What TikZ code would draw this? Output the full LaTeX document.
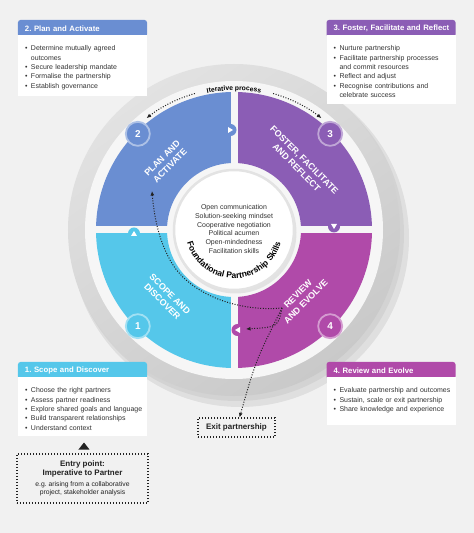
\documentclass[tikz,border=0pt]{standalone}
\usepackage{fontspec}
\setmainfont{Liberation Sans}
\usepackage{enumitem}
\setlist[itemize]{nosep, leftmargin=9bp, labelsep=3.5bp, label=\textbullet}
\usetikzlibrary{arrows.meta, positioning, decorations.text}
\frenchspacing

\definecolor{pagegrey}{HTML}{F1F1F1}
\definecolor{ringlight}{HTML}{E2E2E2}
\definecolor{ringdark}{HTML}{C9C9C9}
\definecolor{gapgrey}{HTML}{F6F6F6}
\definecolor{planblue}{HTML}{6A8ED2}
\definecolor{fosterpurple}{HTML}{8B5DB5}
\definecolor{reviewmagenta}{HTML}{B04AA9}
\definecolor{scopecyan}{HTML}{55C7EA}
\definecolor{bodyink}{HTML}{333333}
\definecolor{ink}{HTML}{222222}

\newcommand{\boxheadfont}{\fontsize{7.8}{9.4}\selectfont\bfseries}
\newcommand{\boxbodyfont}{\fontsize{7}{9.4}\selectfont}
\newcommand{\stagefont}{\fontsize{9}{11}\selectfont\bfseries}
\newcommand{\stepnumfont}{\fontsize{10}{12}\selectfont\bfseries}
\newcommand{\skillfont}{\fontsize{7}{8.8}\selectfont}
\newcommand{\skillarcfont}{\fontsize{8.5}{10}\selectfont\bfseries}
\newcommand{\iterfont}{\fontsize{6.8}{8}\selectfont\bfseries}
\newcommand{\entryfont}{\fontsize{8}{9}\selectfont\bfseries}
\newcommand{\entrynotefont}{\fontsize{6.8}{8}\selectfont}
\newcommand{\exitfont}{\fontsize{8}{9.6}\selectfont\bfseries}

\begin{document}
\begin{tikzpicture}[
  x=1bp, y=1bp,
  head/.style={rectangle, rounded corners=2.5bp, text=white, font=\boxheadfont,
    text width=115bp, inner xsep=7bp, inner ysep=0pt, minimum height=17bp, align=left},
  panel/.style={rectangle, fill=white, text=bodyink, font=\boxbodyfont,
    text width=121bp, inner xsep=4bp, inner ysep=6bp, align=left},
  stage/.style={text=white, font=\stagefont, align=center, inner sep=0pt},
  stepnum/.style={circle, fill=#1, draw=#1!55!white, line width=1.8bp,
    minimum size=24bp, inner sep=0pt, text=white, font=\stepnumfont},
  dotline/.style={draw=ink, line width=1bp, dash pattern=on 1bp off 1.6bp,
    -{Latex[length=4.5bp, width=4bp]}},
  dotbox/.style={draw=ink, line width=1.1bp, dash pattern=on 1.1bp off 1.9bp,
    inner sep=0pt, text=ink}
]
  % page
  \fill[pagegrey] (-234,-303) rectangle (240,230);
  \useasboundingbox (-234,-303) rectangle (240,230);

  % rings
  \fill[black, opacity=0.07] (6,-8) circle (169);
  \fill[black, opacity=0.05] (3,-4) circle (167);
  \shade[top color=ringlight, bottom color=ringdark, shading angle=35] (0,0) circle (166);
  \fill[gapgrey] (0,0) circle (149);

  % quadrants
  \foreach \a/\col in {90/planblue, 0/fosterpurple, 270/reviewmagenta, 180/scopecyan}
    \fill[\col] (\a:67) arc[start angle=\a, end angle={\a+90}, radius=67]
      -- ({\a+90}:138) arc[start angle={\a+90}, end angle=\a, radius=138] -- cycle;
  \draw[gapgrey, line width=7bp] (-149,0) -- (149,0) (0,-149) -- (0,149);

  % direction marks
  \fill[planblue] (-3.5,100) circle (6);
  \fill[white] (-6,103) -- (-6,97) -- (-1,100) -- cycle;
  \fill[fosterpurple] (100,3.5) circle (6);
  \fill[white] (97,6) -- (103,6) -- (100,1) -- cycle;
  \fill[scopecyan] (-100,-3.5) circle (6);
  \fill[white] (-103,-6) -- (-97,-6) -- (-100,-1) -- cycle;
  \fill[reviewmagenta] (3.5,-100) circle (6);
  \fill[white] (6,-97) -- (6,-103) -- (1,-100) -- cycle;

  % hub
  \fill[black, opacity=0.08] (1.5,-2.5) circle (61);
  \node[circle, fill=white, draw=gray!22, line width=2.5bp, minimum size=120bp] (hub) at (0,0) {};
  \node[font=\skillfont, text=bodyink, align=center] (skills) at (0,1)
    {Open communication\\Solution-seeking mindset\\Cooperative negotiation\\
     Political acumen\\Open-mindedness\\Facilitation skills};
  \path[decorate, decoration={text along path, text align=center,
      text={|\skillarcfont|Foundational Partnership Skills}}]
    (192:48.5) arc[start angle=192, end angle=348, radius=48.5];

  % stage names
  \node[stage, rotate=45]  (lplan)   at (135:96) {PLAN AND\\ACTIVATE};
  \node[stage, rotate=-45] (lfoster) at (45:94)  {FOSTER, FACILITATE\\AND REFLECT};
  \node[stage, rotate=-45] (lscope)  at (225:96) {SCOPE AND\\DISCOVER};
  \node[stage, rotate=45]  (lreview) at (315:96) {REVIEW\\AND EVOLVE};

  \node[stepnum=scopecyan]     (n1) at (225:136) {1};
  \node[stepnum=planblue]      (n2) at (135:136) {2};
  \node[stepnum=fosterpurple]  (n3) at (45:136)  {3};
  \node[stepnum=reviewmagenta] (n4) at (315:136) {4};

  % iterative process
  \path[decorate, decoration={text along path, text align=center,
      text={|\iterfont|Iterative process}}]
    (112:139.5) arc[start angle=112, end angle=68, radius=139.5];
  \coordinate (iterL) at (106:142);
  \coordinate (iterR) at (74:142);
  \draw[dotline] (iterL) arc[start angle=106, end angle=128, radius=142];
  \draw[dotline] (iterR) arc[start angle=74, end angle=52, radius=142];

  % stage boxes
  \node[head, fill=planblue] (h2) at (-151.5,201.5) {\mbox{2. Plan and Activate}};
  \node[panel, below=-2bp of h2] (b2) {\begin{itemize}
    \item Determine mutually agreed\newline outcomes
    \item Secure leadership mandate
    \item Formalise the partnership
    \item Establish governance
  \end{itemize}};

  \node[head, fill=fosterpurple] (h3) at (157,201.5) {\mbox{3. Foster, Facilitate and Reflect}};
  \node[panel, below=-2bp of h3] (b3) {\begin{itemize}
    \item Nurture partnership
    \item Facilitate partnership processes\newline and commit resources
    \item Reflect and adjust
    \item Recognise contributions and\newline celebrate success
  \end{itemize}};

  \node[head, fill=scopecyan] (h1) at (-151.5,-140.5) {\mbox{1. Scope and Discover}};
  \node[panel, below=-2bp of h1] (b1) {\begin{itemize}
    \item Choose the right partners
    \item Assess partner readiness
    \item Explore shared goals and language
    \item Build transparent relationships
    \item Understand context
  \end{itemize}};

  \node[head, fill=reviewmagenta] (h4) at (157,-140.5) {\mbox{4. Review and Evolve}};
  \node[panel, below=-2bp of h4] (b4) {\begin{itemize}
    \item Evaluate partnership and outcomes
    \item Sustain, scale or exit partnership
    \item Share knowledge and experience
  \end{itemize}\par\vspace{6bp}};

  % entry and exit
  \node[dotbox, minimum width=131bp, minimum height=49bp, text width=125bp, align=flush center]
    (entry) at (-151.5,-248.5)
    {{\entryfont Entry point:\\Imperative to Partner\par}\vspace{2.5bp}
     {\entrynotefont e.g. arising from a collaborative\\project, stakeholder analysis\par}};
  \coordinate (entrymark) at (-150,-216);
  \fill[ink] (entrymark) ++(-5.5,-3.5) -- ++(11,0) -- ++(-5.5,7) -- cycle;

  \node[dotbox, minimum width=77bp, minimum height=19bp, font=\exitfont]
    (exit) at (2.5,-197.5) {Exit partnership};

  \coordinate (fork) at (48,-78);
  \coordinate (replan) at (-82,39);
  \coordinate (rereview) at (12,-99);
  \draw[dotline] (fork) .. controls (5,-82) and (-45,-65) .. (-64,-30)
    .. controls (-76,-8) and (-80,15) .. (replan);
  \draw[dotline] (fork) .. controls (44,-97) .. (rereview);
  \draw[dotline] (fork) .. controls (22,-130) .. ([xshift=3bp]exit.north);
\end{tikzpicture}
\end{document}
